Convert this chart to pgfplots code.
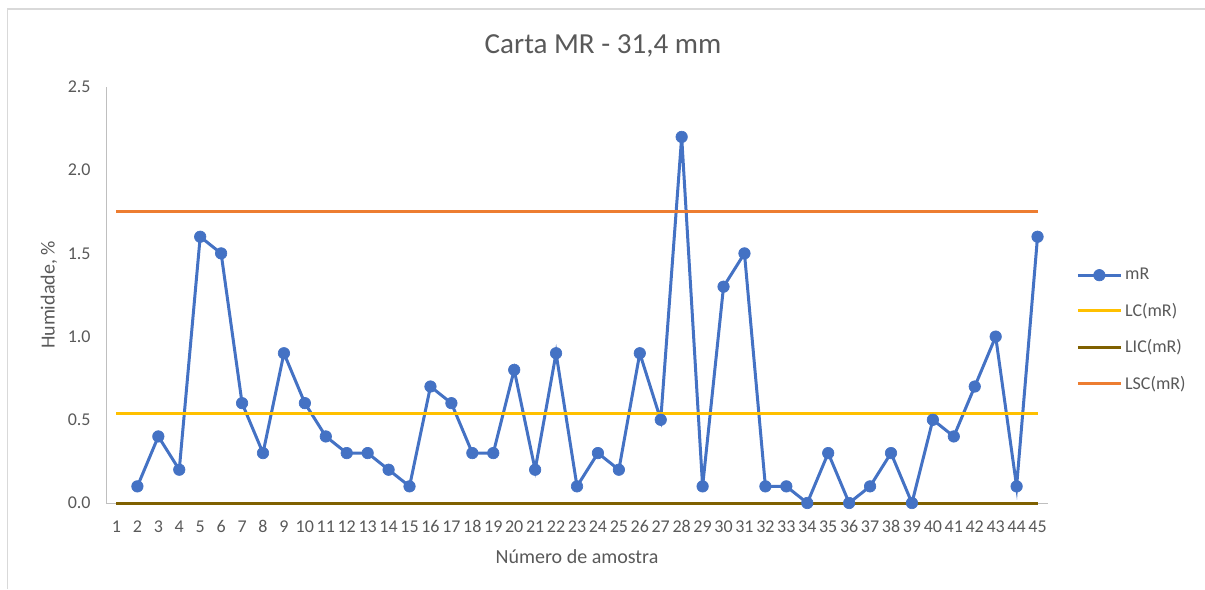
\documentclass[border=0pt]{standalone}
\usepackage{pgfplots}
\pgfplotsset{compat=1.18}
\usepackage{fontspec}
\setmainfont{Carlito}
\definecolor{txt}{HTML}{595959}
\definecolor{cblue}{HTML}{4472C4}
\definecolor{cyel}{HTML}{FFC000}
\definecolor{cbrown}{HTML}{7F6000}
\definecolor{corange}{HTML}{ED7D31}
\definecolor{axgray}{HTML}{BFBFBF}
\definecolor{bordergray}{HTML}{D9D9D9}
\begin{document}
\begin{tikzpicture}
\path[use as bounding box] (0,0) rectangle (903.75pt,441.75pt);
\draw[bordergray, line width=1.2pt] (5.6pt,0) -- (5.6pt,435pt) -- (903.75pt,435pt);
\node[text=txt, font=\fontsize{21.8}{24}\selectfont] at (452.25pt,407.5pt) {Carta MR - 31,4 mm};
\begin{axis}[
  at={(79.5pt,64.5pt)}, anchor=south west,
  scale only axis, width=706.5pt, height=312pt,
  xmin=0.5, xmax=45.5, ymin=0, ymax=2.5,
  axis x line*=bottom, axis y line*=left,
  axis line style={axgray, line width=0.75pt, -},
  xtick={1,...,45}, ytick={0,0.5,1,1.5,2,2.5},
  major tick length=0pt,
  /pgf/number format/assume math mode=true,
  yticklabel style={/pgf/number format/fixed, /pgf/number format/fixed zerofill, /pgf/number format/precision=1, text=txt, font=\fontsize{13.5}{15}\selectfont, xshift=-8pt},
  xticklabel style={text=txt, font=\fontsize{13.5}{15}\selectfont, yshift=-9pt, inner xsep=0pt, anchor=north, text height=9.5pt, text depth=0pt},
  xlabel={Número de amostra}, ylabel={Humidade, \%},
  xlabel style={at={(axis description cs:0.5,0)}, anchor=center, yshift=-40.5pt, text=txt, font=\fontsize{15}{17}\selectfont},
  ylabel style={at={(axis description cs:-0.0605,0.5)}, anchor=center, text=txt, font=\fontsize{15}{17}\selectfont},
  clip=false,
  legend style={at={(axis description cs:1.0297,0.416)}, anchor=west, draw=none, fill=none, font=\fontsize{13.5}{15}\selectfont, text=txt, row sep=12pt, inner xsep=0pt},
  legend cell align=left,
  legend image code/.code={\draw[mark repeat=2,mark phase=2] plot coordinates {(0cm,0cm) (0.57cm,0cm) (1.14cm,0cm)};},
]
\addplot[cblue, line width=2.25pt, mark=*, mark size=4.3pt, mark options={fill=cblue, draw=cblue, line width=0.5pt}] coordinates {
(2,0.1) (3,0.4) (4,0.2) (5,1.6) (6,1.5) (7,0.6) (8,0.3) (9,0.9) (10,0.6) (11,0.4)
(12,0.3) (13,0.3) (14,0.2) (15,0.1) (16,0.7) (17,0.6) (18,0.3) (19,0.3) (20,0.8) (21,0.2)
(22,0.9) (23,0.1) (24,0.3) (25,0.2) (26,0.9) (27,0.5) (28,2.2) (29,0.1) (30,1.3) (31,1.5)
(32,0.1) (33,0.1) (34,0.0) (35,0.3) (36,0.0) (37,0.1) (38,0.3) (39,0.0) (40,0.5) (41,0.4)
(42,0.7) (43,1.0) (44,0.1) (45,1.6)
};
\addlegendentry{mR}
\addplot[cyel, line width=2.25pt] coordinates {(1,0.535) (45,0.535)};
\addlegendentry{LC(mR)}
\addplot[cbrown, line width=2.25pt] coordinates {(1,0) (45,0)};
\addlegendentry{LIC(mR)}
\addplot[corange, line width=2.25pt] coordinates {(1,1.75) (45,1.75)};
\addlegendentry{LSC(mR)}
\end{axis}
\end{tikzpicture}
\end{document}
